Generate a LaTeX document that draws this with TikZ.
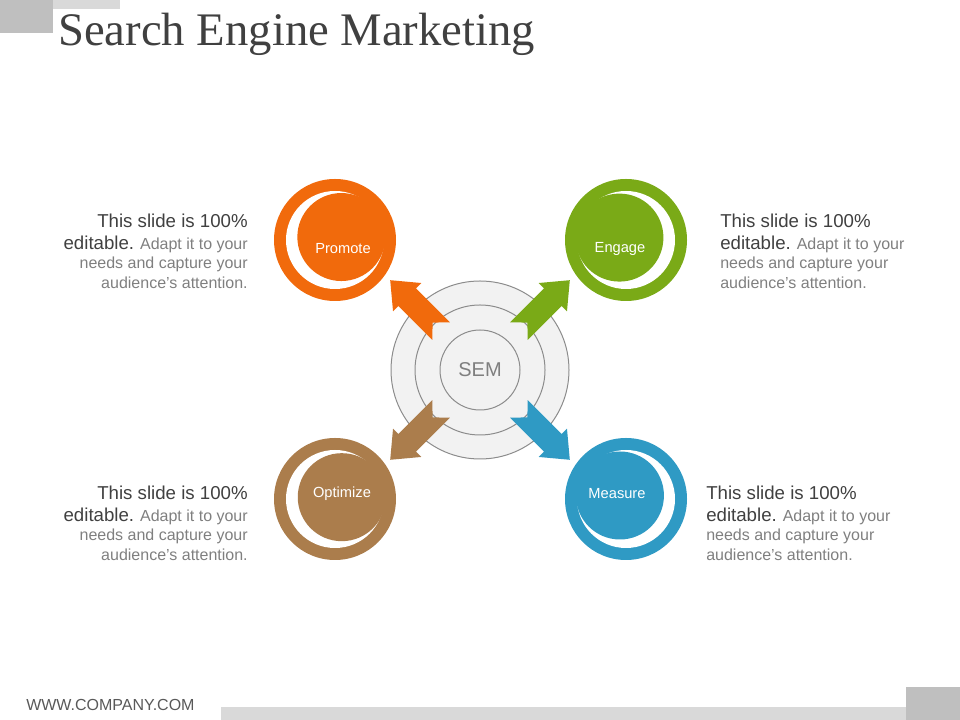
\documentclass[tikz,border=0pt]{standalone}
\usepackage{fontspec}
\setmainfont{Liberation Sans}
\newfontfamily\titlefont{Liberation Serif}
\usetikzlibrary{calc}

\definecolor{promoteC}{RGB}{241,106,12}
\definecolor{engageC}{RGB}{122,170,23}
\definecolor{optimizeC}{RGB}{171,125,76}
\definecolor{measureC}{RGB}{47,154,196}
\definecolor{titleC}{RGB}{64,64,64}
\definecolor{blurbDark}{RGB}{64,64,64}
\definecolor{blurbLight}{RGB}{127,127,127}
\definecolor{ringC}{RGB}{140,140,140}
\definecolor{semC}{RGB}{242,242,242}
\definecolor{barLight}{RGB}{217,217,217}
\definecolor{barDark}{RGB}{191,191,191}

\tikzset{
	badge/.style = {circle, minimum size = 91.5pt},
	gap/.style = {circle, fill = white, minimum size = 73.5pt},
	core/.style = {circle, minimum size = 66pt},
	badge label/.style = {text = white, font = \fontsize{11}{13}\selectfont},
	target/.style = {circle, draw = ringC, fill = semC, line width = 0.75pt},
	blurb/.style = {text = blurbLight, font = \fontsize{12}{14.6}\selectfont}
}

\newcommand{\blurbtext}{%
	{\fontsize{14}{14.6}\selectfont\color{blurbDark}This slide is 100\%}\\[1.9pt]
	{\fontsize{14}{14.6}\selectfont\color{blurbDark}editable.} Adapt it to your\\
	needs and capture your\\
	audience’s attention.}

\begin{document}
\begin{tikzpicture}[x = 0.75pt, y = 0.75pt, every node/.style = {inner sep = 0pt}]

	\useasboundingbox (0, 0) rectangle (960, 720);

	% Corner bars

	\fill [barLight] (0, 720) rectangle (120, 710.5);
	\fill [barDark] (0, 720) rectangle (53, 687);
	\fill [barLight] (221, 0) rectangle (906, 13);
	\fill [barDark] (906, 0) rectangle (960, 33);

	% Title and footer

	\node [anchor = base west, text = titleC, font = \titlefont\fontsize{35}{40}\selectfont] (title) at (58, 674) {Search Engine Marketing};
	\node [anchor = base west, text = black!65, font = \fontsize{12}{14}\selectfont] (url) at (26, 9) {WWW.COMPANY.COM};

	% Target rings in the middle

	\node [target, minimum size = 133.5pt] (sem-outer) at (480, 350) {};
	\node [target, minimum size = 97.5pt] (sem-middle) at (sem-outer) {};
	\node [target, minimum size = 60pt, text = blurbLight, font = \fontsize{15}{18}\selectfont] (sem) at (sem-outer) {SEM};

	% Badges and arrows

	\foreach \name/\col/\px/\py/\off/\dir/\lx/\ly/\lab in {
		promote/promoteC/335/480/25/135/343/471/Promote,
		engage/engageC/626/480/160/45/620/471/Engage,
		optimize/optimizeC/335/221/15/225/342/226/Optimize,
		measure/measureC/626/221/150/315/617/226/Measure}
	{
		\node [badge, fill = \col] (\name) at (\px, \py) {};
		\node [gap] (\name-gap) at (\name) {};
		\node [core, fill = \col] (\name-core) at ($(\name) + (\off:7)$) {};
		\node [badge label] (\name-label) at (\lx, \ly) {\lab};

		\begin{scope}[shift = {(sem.center)}, rotate = \dir]
			\fill [\col] (55, 12.5) -- (103, 12.5) -- (103, 20) -- (127, 0) -- (103, -20)
				-- (103, -12.5) -- (55, -12.5) -- (67, 0) -- cycle;
		\end{scope}
	}

	% Text beside the badges

	\node [blurb, anchor = north east, align = right] (promote-text) at (248, 506.6) {\blurbtext};
	\node [blurb, anchor = north west, align = left] (engage-text) at (720, 506.6) {\blurbtext};
	\node [blurb, anchor = north east, align = right] (optimize-text) at (248, 234.6) {\blurbtext};
	\node [blurb, anchor = north west, align = left] (measure-text) at (706, 234.6) {\blurbtext};

\end{tikzpicture}
\end{document}
